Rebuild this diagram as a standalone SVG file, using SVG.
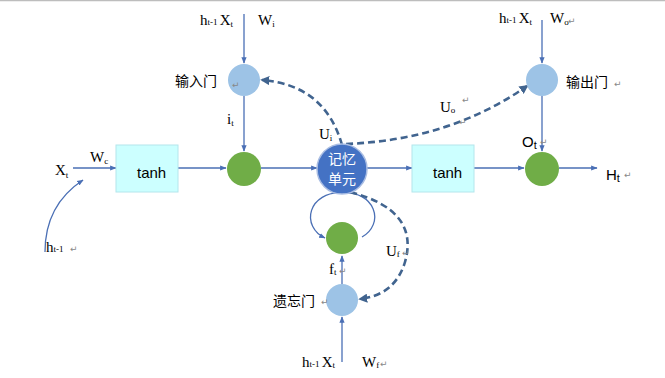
<svg xmlns="http://www.w3.org/2000/svg" width="665" height="378" viewBox="0 0 665 378">
<defs>
<marker id="a" viewBox="0 0 10 10" refX="9" refY="5" markerWidth="5" markerHeight="5" orient="auto"><path d="M0,1 L10,5 L0,9 z" fill="#4a6fb5"/></marker>
<marker id="ad" viewBox="0 0 10 10" refX="8" refY="5" markerWidth="3.5" markerHeight="3.5" orient="auto"><path d="M0,0 L10,5 L0,10 z" fill="#41648f"/></marker>
</defs>
<style>
.ln{stroke:#4a6fb5;stroke-width:1.3;fill:none}
.dl{stroke:#41648f;stroke-width:2.6;fill:none;stroke-dasharray:7,4}
.gate{fill:#9dc3e6}
.green{fill:#70ad47}
.box{fill:#ccffff;stroke:#b4e6ec;stroke-width:1}
.s{font-family:"Liberation Serif",serif;font-size:15px;fill:#000}
.sub{font-size:9px}
.sa{font-family:"Liberation Sans",sans-serif;font-size:15px;fill:#000}
.cn{font-family:"Noto Sans CJK SC",sans-serif;font-size:14px;fill:#000}
.rm{font-family:"DejaVu Sans",sans-serif;font-size:9px;fill:#888}
</style>
<rect x="0" y="0" width="665" height="378" fill="#fff"/>
<line x1="0" y1="0.5" x2="665" y2="0.5" stroke="#bdbdbd" stroke-width="1.5"/>
<g id="connectors">
<line class="ln" x1="244" y1="14" x2="244" y2="63" marker-end="url(#a)"/>
<line class="ln" x1="244" y1="96" x2="244" y2="151" marker-end="url(#a)"/>
<line class="ln" x1="542" y1="20" x2="542" y2="63" marker-end="url(#a)"/>
<line class="ln" x1="542" y1="96" x2="542" y2="151" marker-end="url(#a)"/>
<line class="ln" x1="73" y1="168" x2="116" y2="168" marker-end="url(#a)"/>
<line class="ln" x1="178" y1="168" x2="226" y2="168" marker-end="url(#a)"/>
<line class="ln" x1="261" y1="168" x2="317" y2="168" marker-end="url(#a)"/>
<line class="ln" x1="366" y1="168" x2="412" y2="168" marker-end="url(#a)"/>
<line class="ln" x1="474" y1="168" x2="524" y2="168" marker-end="url(#a)"/>
<line class="ln" x1="559" y1="168" x2="597" y2="168" marker-end="url(#a)"/>
<line class="ln" x1="342" y1="362" x2="342" y2="317" marker-end="url(#a)"/>
<line class="ln" x1="342" y1="284" x2="342" y2="256" marker-end="url(#a)"/>
<path class="ln" d="M45,252 Q45,205 83,180" marker-end="url(#a)"/>
<path class="ln" d="M340,193 A28,24 0 0 0 325,238" marker-end="url(#a)"/>
<path class="ln" d="M344,193 A28,24 0 0 1 362,237"/>
<path class="dl" d="M342,145 Q325,85 262,80" marker-end="url(#ad)"/>
<path class="dl" d="M346,144 Q450,140 527,86" marker-end="url(#ad)"/>
<path class="dl" d="M350,192 Q420,210 405,262 Q395,295 360,299" marker-end="url(#ad)"/>
</g>
<g id="input-gate">
<circle class="gate" cx="244" cy="80" r="16"/>
<text class="cn" x="175" y="86">输入门</text>
<text class="rm" x="232" y="88" font-size="16">↵</text>
</g>
<g id="output-gate">
<circle class="gate" cx="542" cy="80" r="16"/>
<text class="cn" x="566" y="87">输出门</text>
<text class="rm" x="614" y="87">↵</text>
</g>
<g id="forget-gate">
<circle class="gate" cx="342" cy="300" r="16"/>
<text class="cn" x="273" y="306">遗忘门</text>
<text class="rm" x="321" y="305">↵</text>
</g>
<g id="tanh1">
<rect class="box" x="116" y="145" width="62" height="47"/>
<text class="sa" x="137" y="178" font-size="13">tanh</text>
</g>
<g id="tanh2">
<rect class="box" x="412" y="145" width="62" height="47"/>
<text class="sa" x="433" y="178" font-size="13">tanh</text>
</g>
<g id="mul-input">
<circle class="green" cx="244" cy="169" r="17"/>
</g>
<g id="mul-output">
<circle class="green" cx="542" cy="169" r="17"/>
</g>
<g id="mul-forget">
<circle class="green" cx="342" cy="238" r="16"/>
</g>
<g id="memory">
<circle cx="342" cy="169" r="25" fill="#4472c4" stroke="#a9bde3" stroke-width="1.5"/>
<text class="cn" x="342" y="164" style="fill:#fff" font-size="13" text-anchor="middle">记忆</text>
<text class="cn" x="342" y="184" style="fill:#fff" font-size="13" text-anchor="middle">单元</text>
</g>
<g id="labels">
<text class="s" x="200" y="25">h<tspan class="sub">t-1 </tspan>X<tspan class="sub" dy="2">t</tspan></text>
<text class="s" x="258" y="25">W<tspan class="sub" dy="2">i</tspan></text>
<text class="s" x="499" y="23">h<tspan class="sub">t-1 </tspan>X<tspan class="sub" dy="2">t</tspan></text>
<text class="s" x="550" y="23">W<tspan class="sub" dy="2">o</tspan></text>
<text class="rm" x="568" y="24">↵</text>
<text class="s" x="227" y="124">i<tspan class="sub" dy="2">t</tspan></text>
<text class="s" x="319" y="139">U<tspan class="sub" dy="2">i</tspan></text>
<text class="s" x="440" y="112">U<tspan class="sub" dy="1">o</tspan></text>
<text class="rm" x="462" y="103">↵</text>
<text class="rm" x="459" y="125">↵</text>
<text class="sa" x="522" y="147">O<tspan font-size="11" dy="2">t</tspan></text>
<text class="rm" x="540" y="145">↵</text>
<text class="sa" x="606" y="180">H<tspan font-size="11" dy="2">t</tspan></text>
<text class="rm" x="624" y="178">↵</text>
<text class="s" x="55" y="175" font-size="16">X<tspan class="sub" dy="3">t</tspan></text>
<text class="s" x="90" y="162" font-size="13">W<tspan class="sub" dy="2">c</tspan></text>
<text class="s" x="46" y="252" font-size="16">h<tspan class="sub">t-1</tspan></text>
<text class="rm" x="70" y="252" font-size="8">↵</text>
<text class="s" x="329" y="274">f<tspan class="sub" dy="1">t</tspan></text>
<text class="rm" x="339" y="274" font-size="8">↵</text>
<text class="s" x="386" y="256">U<tspan class="sub" dy="1">f</tspan></text>
<text class="rm" x="402" y="256" font-size="8">↵</text>
<text class="s" x="302" y="367">h<tspan class="sub">t-1 </tspan>X<tspan class="sub" dy="1">t</tspan></text>
<text class="s" x="362" y="367">W<tspan class="sub" dy="1">f</tspan></text>
<text class="rm" x="380" y="367" font-size="8">↵</text>
</g>
</svg>
